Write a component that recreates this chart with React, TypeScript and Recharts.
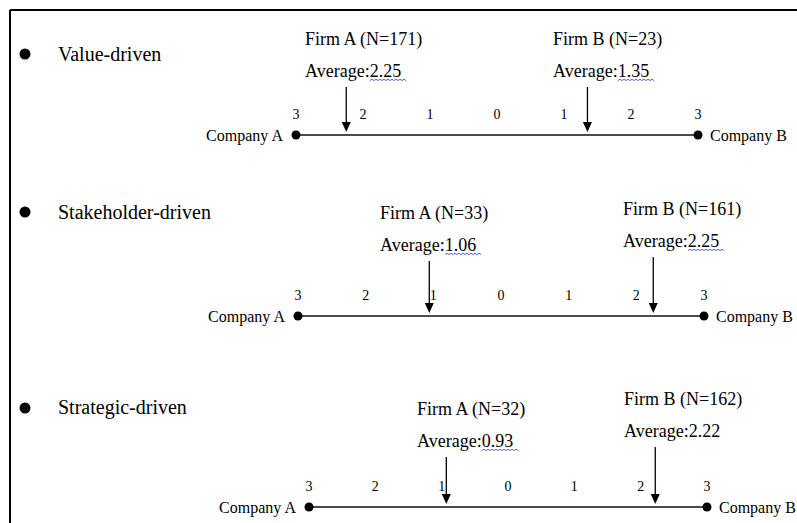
import React from 'react'
import { ScatterChart, Scatter, XAxis, YAxis, ReferenceLine } from 'recharts'

// survey blocks
const categories = ['Value-driven', 'Stakeholder-driven', 'Strategic-driven']
const firmASizes = [171, 33, 32]
const firmAAverages = [2.25, 1.06, 0.93]
const firmBSizes = [23, 161, 162]
const firmBAverages = [1.35, 2.25, 2.22]

// scale runs from Company A (3) through 0 to Company B (3)
const scaleTicks = [-3, -2, -1, 0, 1, 2, 3]
const poleLabels = ['Company A', 'Company B']

const W = 797
const H = 523
const FONT = '"Liberation Serif", "Times New Roman", serif'
const CHART_H = 150
const AXIS_IN_CHART = 130

// pixel layout of each block (positions only)
const rows = [
  { axisY: 135, left: 296, right: 698, titleY: 61, bulletY: 54, labelX: [305, 553], lift: [48, 48], wavy: [true, true] },
  { axisY: 316, left: 298, right: 704, titleY: 219, bulletY: 212, labelX: [380, 623], lift: [55, 59], wavy: [true, true] },
  { axisY: 507, left: 309, right: 707, titleY: 414, bulletY: 408, labelX: [417, 624], lift: [50, 60], wavy: [true, false] },
]

type Row = (typeof rows)[number]

function wavyPath(x0: number, x1: number, y: number) {
  let d = `M${x0},${y}`
  let up = true
  for (let x = x0 + 2; x <= x1; x += 2) {
    d += ` L${x},${up ? y - 1.2 : y}`
    up = !up
  }
  return d
}

const renderPole = (props: any) => {
  const { cx, cy, payload } = props
  const isLeft = payload.side === 'left'
  return (
    <g>
      <circle cx={cx} cy={cy} r={4.5} fill="#000" />
      <text
        x={isLeft ? cx - 13 : cx + 12}
        y={cy + 6}
        textAnchor={isLeft ? 'end' : 'start'}
        fontSize={16}
        fontFamily={FONT}
        fill="#000"
      >
        {payload.label}
      </text>
    </g>
  )
}

const makeArrow = (row: Row) => (props: any) => {
  const { cx, cy, payload } = props
  const i = payload.idx
  const lift = row.lift[i]
  const lx = row.labelX[i]
  const tip = cy - 3
  const head = 10
  const avgY = cy - lift - 10
  const numX = lx + 65
  return (
    <g>
      <line x1={cx} y1={cy - lift} x2={cx} y2={tip - head + 1} stroke="#000" strokeWidth={1.3} />
      <polygon points={`${cx - 4.5},${tip - head} ${cx + 4.5},${tip - head} ${cx},${tip}`} fill="#000" />
      <text x={lx} y={cy - lift - 42} fontSize={18} fontFamily={FONT} fill="#000">
        {`${payload.name} (N=${payload.n})`}
      </text>
      <text x={lx} y={avgY} fontSize={18} fontFamily={FONT} fill="#000">
        {`Average:${payload.avg.toFixed(2)}`}
      </text>
      {row.wavy[i] && (
        <path d={wavyPath(numX, numX + 36, avgY + 3.5)} fill="none" stroke="#3f51d6" strokeWidth={0.9} />
      )}
    </g>
  )
}

function ScaleRow({ r }: { r: number }) {
  const row = rows[r]
  const poles = [
    { x: -3, y: 0, label: poleLabels[0], side: 'left' },
    { x: 3, y: 0, label: poleLabels[1], side: 'right' },
  ]
  const firms = [
    { x: -firmAAverages[r], y: 0, name: 'Firm A', n: firmASizes[r], avg: firmAAverages[r], idx: 0 },
    { x: firmBAverages[r], y: 0, name: 'Firm B', n: firmBSizes[r], avg: firmBAverages[r], idx: 1 },
  ]
  return (
    <div style={{ position: 'absolute', left: 0, top: row.axisY - AXIS_IN_CHART }}>
      <ScatterChart
        width={W}
        height={CHART_H}
        margin={{ top: AXIS_IN_CHART - 16 - 20, right: W - row.right, bottom: CHART_H - AXIS_IN_CHART, left: row.left }}
      >
        <XAxis
          type="number"
          dataKey="x"
          orientation="top"
          height={20}
          domain={[-3, 3]}
          ticks={scaleTicks}
          tickFormatter={(v: number) => String(Math.abs(v))}
          axisLine={false}
          tickLine={false}
          tickSize={0}
          tickMargin={0}
          tick={{ fontSize: 14, fill: '#000', fontFamily: FONT }}
          interval={0}
        />
        <YAxis type="number" dataKey="y" domain={[0, 1]} hide />
        <ReferenceLine y={0} stroke="#111" strokeWidth={1.5} />
        <Scatter data={poles} shape={renderPole} isAnimationActive={false} />
        <Scatter data={firms} shape={makeArrow(row)} isAnimationActive={false} />
      </ScatterChart>
    </div>
  )
}

export default function App() {
  return (
    <div style={{ position: 'absolute', left: 0, top: 0, width: W, height: H, overflow: 'hidden', background: '#fff' }}>
      <svg width={W} height={H} style={{ position: 'absolute', left: 0, top: 0 }}>
        <line x1={10} y1={10} x2={W} y2={10} stroke="#000" strokeWidth={2} />
        <line x1={10} y1={10} x2={10} y2={H} stroke="#000" strokeWidth={2} />
        {rows.map((row, i) => (
          <g key={categories[i]}>
            <circle cx={25} cy={row.bulletY} r={5.5} fill="#000" />
            <text x={58} y={row.titleY} fontSize={20} fontFamily={FONT} fill="#000">
              {categories[i]}
            </text>
          </g>
        ))}
      </svg>
      {rows.map((_, i) => (
        <ScaleRow key={i} r={i} />
      ))}
    </div>
  )
}
